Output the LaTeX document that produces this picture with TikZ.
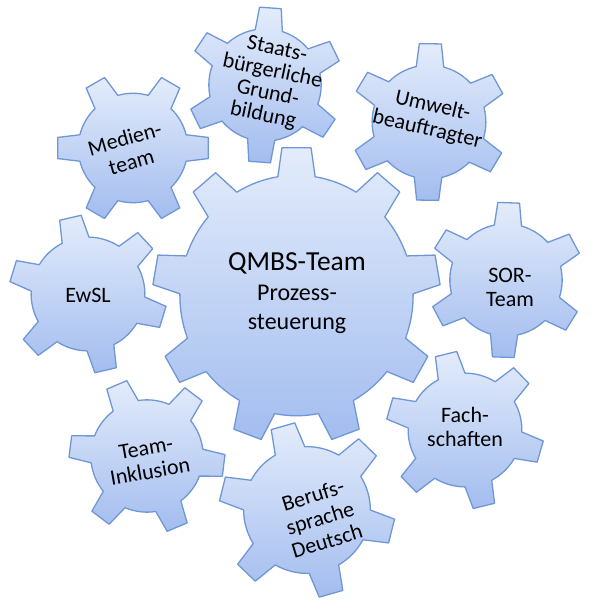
\documentclass[tikz,border=0pt]{standalone}
\usepackage{fontspec}
\setmainfont{Carlito}
\definecolor{gearline}{HTML}{6F97D6}
\definecolor{geartop}{HTML}{E3ECFB}
\definecolor{gearbot}{HTML}{A3BDEF}
% #1 cx, #2 cy (from top), #3 Rx, #4 Ry, #5 teeth, #6 phase, #7 inner ratio, #8 base half-angle, #9 tip half-angle
\newcommand\drawgear[9]{%
  \begin{scope}[shift={({#1},{614-#2})}, xscale=#3, yscale=#4]
    \path[gearstyle] ({#6-#8}:#7)
      \foreach \k in {1,...,#5} {
        -- ({#6+(\k-1)*360/#5-#9}:1)
        -- ({#6+(\k-1)*360/#5+#9}:1)
        -- ({#6+(\k-1)*360/#5+#8}:#7)
        arc[start angle={#6+(\k-1)*360/#5+#8}, end angle={#6+\k*360/#5-#8}, radius=#7]
      } -- cycle;
  \end{scope}}
\begin{document}
\begin{tikzpicture}[x=1pt,y=1pt,
  gearstyle/.style={draw=gearline, line width=1.3pt, line join=round, top color=geartop, bottom color=gearbot},
  geartext/.style={align=center, font=\fontsize{22}{24}\selectfont, text=black, inner sep=0pt}]
\useasboundingbox (0,0) rectangle (597,614);
% gears
\drawgear{296.5}{295.5}{144}{148.5}{9}{90}{0.81}{9.2}{5.8}
\drawgear{265}{85}{78}{78}{6}{86}{0.72}{14}{8}
\drawgear{429}{122}{79}{79}{6}{89}{0.72}{14}{8}
\drawgear{506}{280}{78}{78}{6}{88}{0.72}{14}{8}
\drawgear{465}{430}{79}{79}{6}{44}{0.72}{14}{8}
\drawgear{307}{510}{88}{88}{6}{46}{0.72}{14}{8}
\drawgear{147}{456}{78}{78}{6}{-7}{0.72}{14}{8}
\drawgear{88}{294}{79}{79}{6}{-17}{0.72}{14}{8}
\drawgear{133}{148}{76}{76}{6}{0}{0.72}{14}{8}
% texts
\node[anchor=base, inner sep=0pt, font=\fontsize{27.5}{30}\selectfont] (qmbs) at (297,{614-271}) {QMBS-Team};
\node[anchor=base, inner sep=0pt, font=\fontsize{24}{29}\selectfont] (proz) at (297,{614-301}) {Prozess-};
\node[anchor=base, inner sep=0pt, font=\fontsize{24}{29}\selectfont] (steu) at (297,{614-330}) {steuerung};
\node[geartext, rotate=-12, font=\fontsize{22}{22.5}\selectfont] (staats) at (270,{614-83}) {Staats-\\bürgerliche\\Grund-\\bildung};
\node[geartext, rotate=-13] (umwelt) at (430,{614-118}) {Umwelt-\\beauftragter};
\node[geartext] (sor) at (510,{614-287}) {SOR-\\Team};
\node[geartext] (fach) at (465,{614-427}) {Fach-\\schaften};
\node[geartext, rotate=17] (berufs) at (320,{614-518}) {Berufs-\\sprache\\Deutsch};
\node[geartext, rotate=10] (inkl) at (148,{614-460}) {Team-\\Inklusion};
\node[geartext] (ewsl) at (88,{614-295}) {EwSL};
\node[geartext, rotate=16] (medien) at (128,{614-150}) {Medien-\\team};
\end{tikzpicture}
\end{document}
